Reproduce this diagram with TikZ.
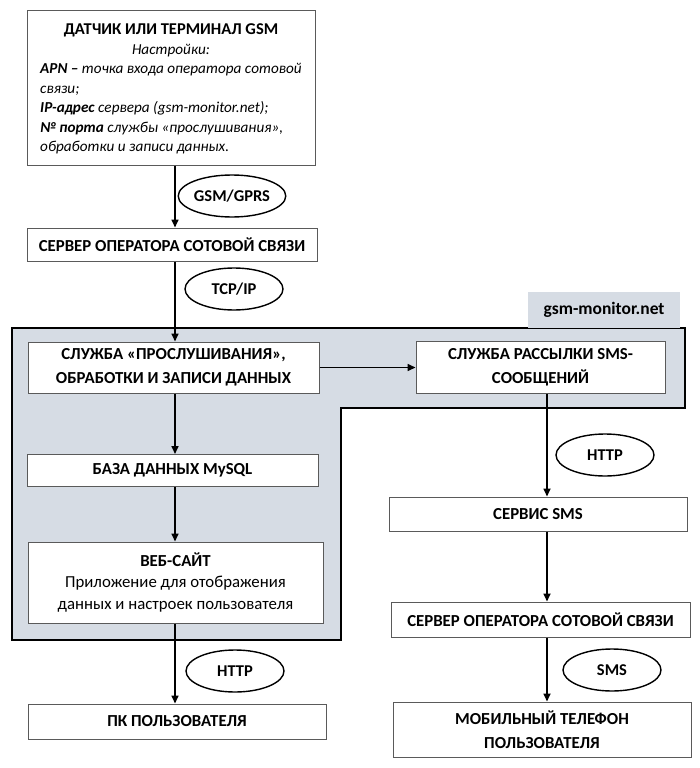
\documentclass[tikz,border=0pt]{standalone}
\usepackage{fontspec}
\setmainfont{Carlito}
\usetikzlibrary{arrows.meta,shapes.geometric}
\definecolor{shade}{HTML}{D6DCE4}
\definecolor{boxline}{HTML}{5A5A5A}
\tikzset{
  box/.style={draw=boxline,line width=1pt,fill=white,rectangle,inner sep=0pt,align=center,font=\fontsize{16.8}{24}\selectfont\bfseries},
  oval/.style={draw=black,line width=1.4pt,ellipse,fill=white,minimum width=98pt,minimum height=42pt,inner sep=0pt,font=\fontsize{16.5}{18}\selectfont\bfseries},
  arr/.style={line width=1.6pt,-{Triangle[length=8pt,width=7pt]}}
}
\begin{document}
\begin{tikzpicture}[x=1pt,y=-1pt]
\useasboundingbox (0,0) rectangle (700,768);
% shaded region
\draw[fill=shade,line width=2.2pt] (12,328) -- (685,328) -- (685,408) -- (341,408) -- (341,640) -- (12,640) -- cycle;
\node[fill=shade,minimum width=152pt,minimum height=36pt,inner sep=0pt,font=\fontsize{17.5}{18}\selectfont\bfseries] (lbl) at (604,310) {gsm-monitor.net};
% boxes
\node[box,minimum width=288pt,minimum height=154pt,inner sep=0pt] (top) at (171,88) {};
\node[inner sep=0pt,font=\fontsize{15.2}{19.5}\selectfont,anchor=center] (toptext) at ([yshift=-1.5pt]top.center) {%
  \def\arraystretch{1}%
  \begin{tabular}{@{}l@{}}
  \multicolumn{1}{@{}c@{}}{\fontsize{16.5}{19.5}\selectfont\bfseries ДАТЧИК ИЛИ ТЕРМИНАЛ GSM}\\
  \multicolumn{1}{@{}c@{}}{\itshape Настройки:}\\
  \itshape\textbf{APN –} точка входа оператора сотовой\\
  \itshape связи;\\
  \itshape\textbf{IP-адрес} сервера (gsm-monitor.net);\\
  \itshape\textbf{№ порта} службы «прослушивания»,\\
  \itshape обработки и записи данных.
  \end{tabular}};
\node[box,minimum width=290pt,minimum height=33pt] (srv1) at (172,244.5) {СЕРВЕР ОПЕРАТОРА СОТОВОЙ СВЯЗИ};
\node[box,minimum width=291pt,minimum height=51pt] (listen) at (173.5,367.5) {СЛУЖБА «ПРОСЛУШИВАНИЯ»,\\ОБРАБОТКИ И ЗАПИСИ ДАННЫХ};
\node[box,minimum width=249pt,minimum height=52pt] (smsmail) at (540.5,367.5) {СЛУЖБА РАССЫЛКИ SMS-\\СООБЩЕНИЙ};
\node[box,minimum width=291pt,minimum height=32pt] (db) at (172.5,470.5) {БАЗА ДАННЫХ MySQL};
\node[box,minimum width=295pt,minimum height=81pt] (web) at (175.5,582.5) {ВЕБ-САЙТ\\[-2.5pt]{\mdseries Приложение для отображения}\\[-2.5pt]{\mdseries данных и настроек пользователя}};
\node[box,minimum width=298pt,minimum height=35pt] (pc) at (177,721.5) {ПК ПОЛЬЗОВАТЕЛЯ};
\node[box,minimum width=298pt,minimum height=34pt] (smsserv) at (538,514) {СЕРВИС SMS};
\node[box,minimum width=299pt,minimum height=35pt] (srv2) at (540.5,619.5) {СЕРВЕР ОПЕРАТОРА СОТОВОЙ СВЯЗИ};
\node[box,minimum width=298pt,minimum height=55pt] (mobile) at (542,729.5) {МОБИЛЬНЫЙ ТЕЛЕФОН\\ПОЛЬЗОВАТЕЛЯ};
% column coordinates
\coordinate (colL) at (175,0);
\coordinate (colR) at (547,0);
% arrows
\draw[arr] (top.south -| colL) -- (srv1.north -| colL);
\draw[arr] (srv1.south -| colL) -- (listen.north -| colL);
\draw[arr] (listen.south -| colL) -- (db.north -| colL);
\draw[arr] (db.south -| colL) -- (web.north -| colL);
\draw[arr] (web.south -| colL) -- (pc.north -| colL);
\draw[arr] (listen.east) -- (smsmail.west);
\draw[arr] (smsmail.south -| colR) -- (smsserv.north -| colR);
\draw[arr] (smsserv.south -| colR) -- (srv2.north -| colR);
\draw[arr] (srv2.south -| colR) -- (mobile.north -| colR);
% ovals
\node[oval] (gprs) at (232,196) {GSM/GPRS};
\node[oval] (tcp) at (234,289) {TCP/IP};
\node[oval] (http2) at (605,455) {HTTP};
\node[oval] (http1) at (235,671) {HTTP};
\node[oval] (sms) at (612,670) {SMS};
\end{tikzpicture}
\end{document}
